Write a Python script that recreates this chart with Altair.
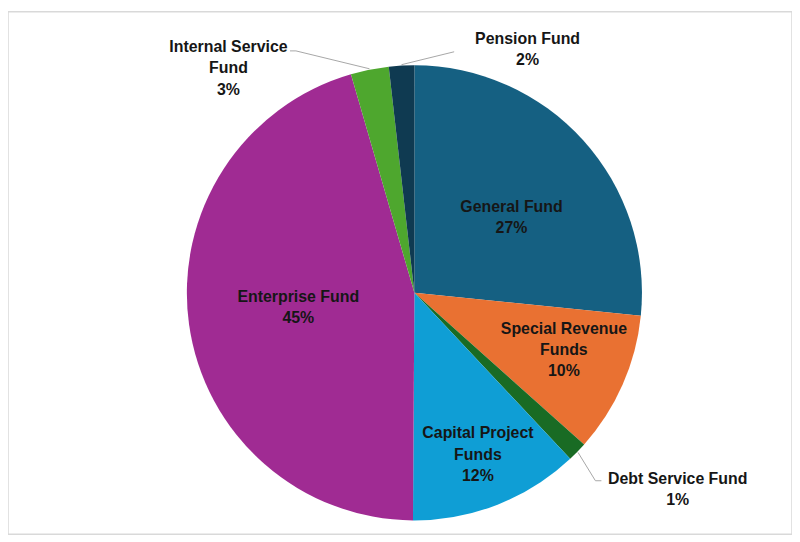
import altair as alt
import pandas as pd

funds = ["General Fund", "Special Revenue Funds", "Debt Service Fund",
         "Capital Project Funds", "Enterprise Fund", "Internal Service Fund",
         "Pension Fund"]
shares = [26.6, 10.0, 1.4, 12.1, 45.4, 2.7, 1.8]
labels = ["General Fund\n27%", "Special Revenue\nFunds\n10%", "Debt Service Fund\n1%",
          "Capital Project\nFunds\n12%", "Enterprise Fund\n45%",
          "Internal Service\nFund\n3%", "Pension Fund\n2%"]
colors = ["#156082", "#E97132", "#196B24", "#0F9ED5", "#A02B93", "#4EA72E", "#0F3A51"]

df = pd.DataFrame({"fund": funds, "share": shares, "label": labels,
                   "order": list(range(len(funds)))})

CX, CY, R = 409, 283, 229
FONT = "Liberation Sans"

base = alt.Chart(df)

pie = base.mark_arc(radius=R).encode(
    theta=alt.Theta("share:Q", stack=True),
    order=alt.Order("order:Q"),
    color=alt.Color("fund:N", scale=alt.Scale(domain=funds, range=colors), legend=None),
    x=alt.value(CX), y=alt.value(CY),
)

mid = (base
       .transform_joinaggregate(total="sum(share)")
       .transform_window(cum="sum(share)", sort=[alt.SortField("order")], frame=[None, 0])
       .transform_calculate(mid="2*PI*(datum.cum - datum.share/2)/datum.total"))

# label placement per fund: (radius, dx, dy)
place = {
    "General Fund": (125, 5, -3),
    "Special Revenue Funds": (160, 4, -28.5),
    "Debt Service Fund": (250, 86, 12.5),
    "Capital Project Funds": (175, 0, -21.5),
    "Enterprise Fund": (118, 0, -12),
    "Internal Service Fund": (250, -138, -2.5),
    "Pension Fund": (250, 128, -6),
}

text_layers = []
for f, (r, dx, dy) in place.items():
    t = mid.transform_filter(alt.datum.fund == f).mark_text(
        radius=r, dx=dx, dy=dy, lineBreak="\n", font=FONT, fontSize=16,
        fontWeight="bold", color="#161616", align="center", baseline="middle",
        lineHeight=21.5,
    ).encode(
        theta=alt.Theta("mid:Q", scale=None),
        text="label:N",
        x=alt.value(CX), y=alt.value(CY),
    )
    text_layers.append(t)

# leader lines: start at slice edge mid-angle, end near label
leaders = {
    "Internal Service Fund": [(-74, -18), (-80, -18)],
    "Pension Fund": [(53, -13)],
    "Debt Service Fund": [(17.5, 28.5), (23.5, 28.5)],
}
rule_layers = []
for f, pts in leaders.items():
    prev = (0, 0)
    for p in pts:
        a, b = prev, p
        prev = p
        rl = (mid.transform_filter(alt.datum.fund == f)
              .transform_calculate(
                  sx=f"{CX} + {R+1}*sin(datum.mid)",
                  sy=f"{CY} - {R+1}*cos(datum.mid)")
              .transform_calculate(
                  x1=f"datum.sx + {a[0]}", y1=f"datum.sy + {a[1]}",
                  x2=f"datum.sx + {b[0]}", y2=f"datum.sy + {b[1]}")
              .mark_rule(color="#a6a6a6", strokeWidth=1)
              .encode(x=alt.X("x1:Q", scale=None), y=alt.Y("y1:Q", scale=None),
                      x2="x2:Q", y2="y2:Q"))
        rule_layers.append(rl)

chart = alt.layer(pie, *rule_layers, *text_layers).properties(
    width=789, height=526,
    padding={"left": 0, "top": 2, "right": 0, "bottom": 0},
).configure_view(stroke="#d9d9d9", strokeWidth=1.5)

chart.save("out.html", embed_options={"renderer": "svg", "actions": False})
